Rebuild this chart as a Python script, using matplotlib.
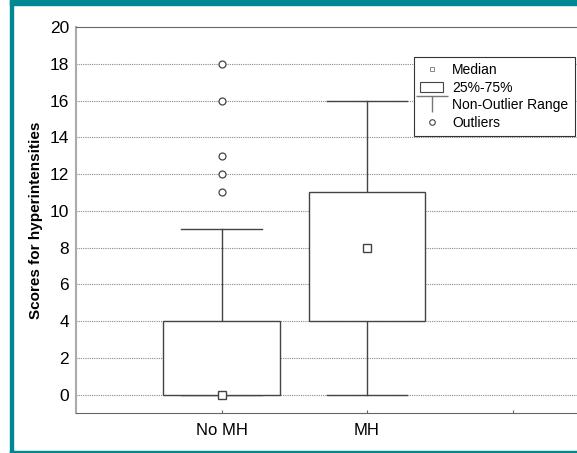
import matplotlib
matplotlib.use("Agg")
import matplotlib.pyplot as plt
from matplotlib.patches import Rectangle
from matplotlib.lines import Line2D
from matplotlib.path import Path

plt.rcParams['font.family'] = ['Liberation Sans', 'DejaVu Sans']

categories = ["No MH", "MH", ""]
q1 = [0, 4]
q3 = [4, 11]
medians = [0, 8]
whisk_lo = [0, 0]
whisk_hi = [9, 16]
outliers = [[11, 12, 13, 16, 18], []]
yticks = [0, 2, 4, 6, 8, 10, 12, 14, 16, 18, 20]
legend_labels = ["Median", "25%-75%", "Non-Outlier Range", "Outliers"]

W, H = 577, 453
fig = plt.figure(figsize=(W / 100, H / 100), dpi=100)

teal = "#008892"
# frame
fig.patches.append(Rectangle((10 / W, 0), 2.5 / W, 1, transform=fig.transFigure, color=teal, zorder=0))
fig.patches.append(Rectangle((10 / W, 1 - 5 / H), 1, 5 / H, transform=fig.transFigure, color=teal, zorder=0))
fig.patches.append(Rectangle((10 / W, 0), 1, 2 / H, transform=fig.transFigure, color=teal, zorder=0))

left = 76 / W
bottom = 1 - 413 / H
top = 1 - 27 / H
unit = 145.5 / W
ax = fig.add_axes([left, bottom, 4 * unit, top - bottom])
ax.set_xlim(-1, 3)
ax.set_ylim(-1, 20)

edge = "#444444"
for y in yticks[:-1]:
    ax.axhline(y, color="#888888", lw=0.8, ls=(0, (1, 1)), zorder=0)

bw = 0.8
cw = 0.55
for i in range(2):
    ax.plot([i, i], [whisk_lo[i], q1[i]], color=edge, lw=1, zorder=2)
    ax.plot([i, i], [q3[i], whisk_hi[i]], color=edge, lw=1, zorder=2)
    ax.plot([i - cw / 2, i + cw / 2], [whisk_hi[i]] * 2, color=edge, lw=1, zorder=2)
    ax.plot([i - cw / 2, i + cw / 2], [whisk_lo[i]] * 2, color=edge, lw=1, zorder=2)
    ax.add_patch(Rectangle((i - bw / 2, q1[i]), bw, q3[i] - q1[i], facecolor="white",
                           edgecolor=edge, lw=1, zorder=3))
    ax.plot([i], [medians[i]], marker="s", ms=6, mfc="white", mec=edge, mew=1, zorder=5)
    if outliers[i]:
        ax.plot([i] * len(outliers[i]), outliers[i], ls="none", marker="o", ms=5,
                mfc="white", mec=edge, mew=0.9, zorder=5)

ax.set_yticks(yticks)
ax.set_yticklabels([str(t) for t in yticks], fontsize=12.5)
ax.set_xticks(range(3))
ax.set_xticklabels(categories, fontsize=12)
ax.tick_params(axis="y", length=0, pad=5)
ax.tick_params(axis="x", direction="in", length=2, color="#666666", pad=7)
ax.spines["left"].set_color("#aaaaaa")
ax.spines["left"].set_linewidth(1.5)
ax.spines["bottom"].set_color("#666666")
ax.spines["top"].set_color("#666666")
ax.spines["right"].set_visible(False)
ax.set_ylabel("Scores for hyperintensities", fontsize=11, fontweight="bold", labelpad=5)

tpath = Path([(-1, 0.5), (1, 0.5), (0, 0.5), (0, -0.5)],
             [Path.MOVETO, Path.LINETO, Path.MOVETO, Path.LINETO])
handles = [
    Line2D([], [], ls="none", marker="s", ms=3, mfc="white", mec="#777777", mew=0.6),
    Rectangle((0, 0), 1, 1, facecolor="white", edgecolor=edge, lw=0.8),
    Line2D([], [], ls="none", marker=tpath, ms=23, mfc="none", mec="#777777", mew=1),
    Line2D([], [], ls="none", marker="o", ms=4, mfc="white", mec=edge, mew=0.8),
]
leg = fig.legend(handles, legend_labels, loc="upper left", bbox_to_anchor=(414 / W, 1 - 57 / H),
                 fontsize=10, frameon=True, fancybox=False, framealpha=1, edgecolor="#333333",
                 handlelength=1.65, handletextpad=0.65, labelspacing=0.25, borderpad=0.45,
                 borderaxespad=0)
leg.get_frame().set_linewidth(0.8)

fig.savefig("out.png", dpi=100)
